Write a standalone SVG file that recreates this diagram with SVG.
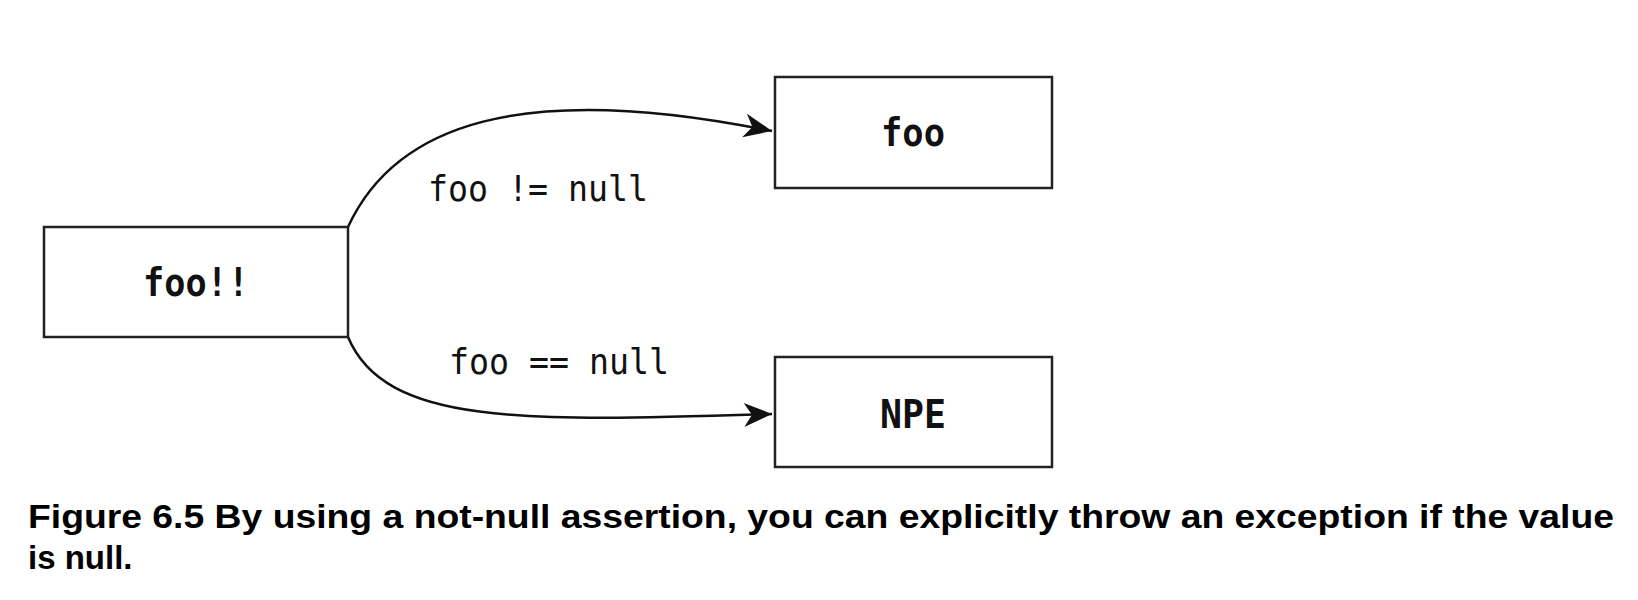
<svg xmlns="http://www.w3.org/2000/svg" width="1638" height="600" viewBox="0 0 1638 600">
<style>
.box{fill:#fff;stroke:#222;stroke-width:2.5}
.nl{font-family:"DejaVu Sans Mono",monospace;font-weight:bold;font-size:39px;fill:#111;text-anchor:middle}
.el{font-family:"DejaVu Sans Mono",monospace;font-size:35px;fill:#111}
.edge{fill:none;stroke:#111;stroke-width:2.5}
.cap{font-family:"Liberation Sans",Arial,sans-serif;font-weight:bold;font-size:33px;fill:#000}
</style>
<defs>
<marker id="arr" markerUnits="userSpaceOnUse" markerWidth="32" markerHeight="32" viewBox="0 0 32 32" refX="29" refY="16" orient="auto">
<path d="M1,4 L29,16 L1,28 L9,16 Z" fill="#111"/>
</marker>
</defs>
<rect width="1638" height="600" fill="#fff"/>
<g id="connectors">
<path class="edge" d="M348,227 C395,125 520,80 772,131" marker-end="url(#arr)"/>
<path class="edge" d="M348,337 C385,425 520,422 772,414" marker-end="url(#arr)"/>
<text class="el" x="428" y="201" textLength="220" lengthAdjust="spacingAndGlyphs">foo != null</text>
<text class="el" x="449" y="374" textLength="220" lengthAdjust="spacingAndGlyphs">foo == null</text>
</g>
<g id="node-foobang">
<rect class="box" x="44" y="227" width="304" height="110"/>
<text class="nl" x="196" y="296" textLength="106" lengthAdjust="spacingAndGlyphs">foo!!</text>
</g>
<g id="node-foo">
<rect class="box" x="775" y="77" width="277" height="111"/>
<text class="nl" x="913" y="146" textLength="64" lengthAdjust="spacingAndGlyphs">foo</text>
</g>
<g id="node-npe">
<rect class="box" x="775" y="357" width="277" height="110"/>
<text class="nl" x="913" y="428" textLength="66" lengthAdjust="spacingAndGlyphs">NPE</text>
</g>
<g id="caption">
<text class="cap" x="28" y="528" textLength="1586" lengthAdjust="spacingAndGlyphs">Figure 6.5 By using a not-null assertion, you can explicitly throw an exception if the value</text>
<text class="cap" x="28" y="569">is null.</text>
</g>
</svg>
